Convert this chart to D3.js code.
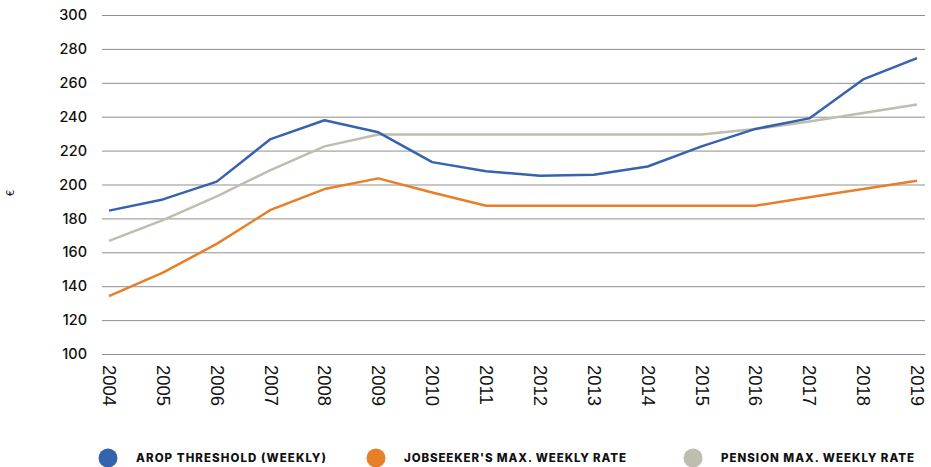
<!DOCTYPE html>
<html>
<head>
<meta charset="utf-8">
<script src="https://cdn.jsdelivr.net/npm/d3@7"></script>
<style>
  body { margin: 0; background: #fff; }
  svg { display: block; }
</style>
</head>
<body>
<div id="chart"></div>
<script>
const years = [2004, 2005, 2006, 2007, 2008, 2009, 2010, 2011, 2012, 2013, 2014, 2015, 2016, 2017, 2018, 2019];
const arop = [184.6, 191.2, 201.7, 226.8, 237.9, 230.8, 213.2, 207.8, 205.2, 205.7, 210.6, 222.5, 232.8, 239, 262, 274.6];
const jobseeker = [134.2, 148, 165, 185, 197.3, 203.6, 195.3, 187.5, 187.5, 187.5, 187.5, 187.5, 187.5, 192.5, 197.3, 202.2];
const pension = [166.7, 179, 193, 208.5, 222.5, 229.5, 229.5, 229.5, 229.5, 229.5, 229.5, 229.5, 232.7, 237.2, 242.2, 247.2];
const yTicks = [100, 120, 140, 160, 180, 200, 220, 240, 260, 280, 300];

const series = [
  { name: 'AROP THRESHOLD (WEEKLY)', values: arop, color: '#3563ad' },
  { name: "JOBSEEKER'S MAX. WEEKLY RATE", values: jobseeker, color: '#e67f26' },
  { name: 'PENSION MAX. WEEKLY RATE', values: pension, color: '#bebdaf' }
];

const W = 931, H = 467;
const svg = d3.select('#chart').append('svg')
  .attr('width', W).attr('height', H);

const x = d3.scalePoint().domain(years).range([109, 917]);
const y = d3.scaleLinear().domain([100, 300]).range([354, 15]);

// gridlines + y labels
const yAxis = svg.append('g')
  .call(d3.axisLeft(y).tickValues(yTicks).tickSize(0).tickPadding(0));
yAxis.select('.domain').remove();
yAxis.selectAll('.tick line')
  .attr('x1', 102).attr('x2', 925)
  .attr('stroke', '#8f8f8f').attr('stroke-width', 1);
yAxis.selectAll('.tick text')
  .attr('x', 87).attr('text-anchor', 'end')
  .style('font-family', 'Inter, "Noto Sans", sans-serif')
  .style('font-size', '14.5px').style('font-weight', 500)
  .style('fill', '#111');

// € label
svg.append('text')
  .attr('transform', 'translate(10,193) rotate(-90)')
  .attr('text-anchor', 'middle').attr('dy', '0.35em')
  .style('font-family', 'Inter, sans-serif').style('font-size', '10px')
  .style('fill', '#111')
  .text('€');

// x labels (rotated, reading top to bottom)
const xAxis = svg.append('g')
  .attr('transform', 'translate(0,365)')
  .call(d3.axisBottom(x).tickSize(0).tickPadding(0));
xAxis.select('.domain').remove();
xAxis.selectAll('.tick text')
  .attr('transform', 'rotate(90)')
  .attr('x', 0).attr('y', 0).attr('dy', '0.35em')
  .attr('text-anchor', 'start')
  .style('font-family', '"Liberation Sans", Arial, sans-serif')
  .style('font-size', '18.5px')
  .style('fill', '#111');

// lines
const line = d3.line()
  .x((d, i) => x(years[i]))
  .y(d => y(d));

[series[1], series[2], series[0]].forEach(s => {
  svg.append('path')
    .datum(s.values)
    .attr('fill', 'none')
    .attr('stroke', s.color)
    .attr('stroke-width', 2.5)
    .attr('stroke-linejoin', 'round')
    .attr('d', line);
});

// legend
const legendX = [108, 376, 693];
const legendW = [190, 222, 193];
const legend = svg.append('g');
series.forEach((s, i) => {
  const g = legend.append('g').attr('transform', `translate(${legendX[i]},458)`);
  g.append('circle').attr('r', 9.5).attr('fill', s.color);
  g.append('text')
    .attr('x', 28).attr('dy', '0.36em')
    .attr('textLength', legendW[i]).attr('lengthAdjust', 'spacing')
    .style('font-family', 'Inter, "Noto Sans", sans-serif')
    .style('font-size', '11.5px').style('font-weight', 800)
    .style('fill', '#111')
    .text(s.name);
});
</script>
</body>
</html>
